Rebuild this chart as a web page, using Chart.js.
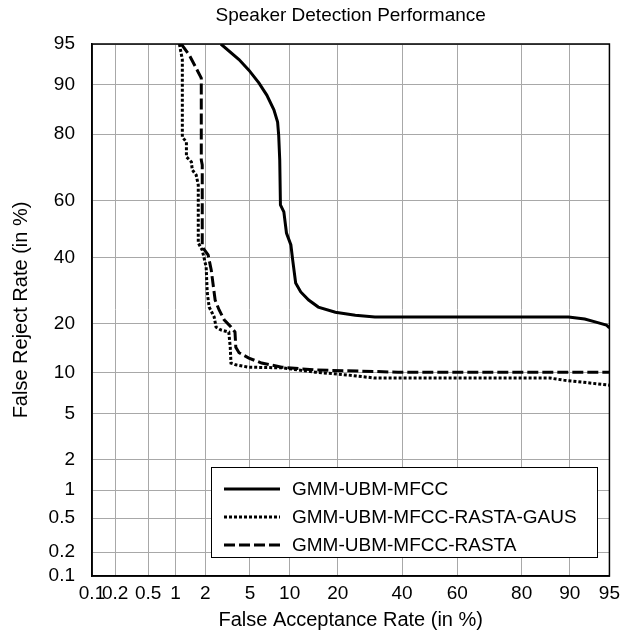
<!DOCTYPE html>
<html>
<head>
<meta charset="utf-8">
<title>Speaker Detection Performance</title>
<script src="https://cdn.jsdelivr.net/npm/chart.js@4.4.1/dist/chart.umd.min.js"></script>
<style>
  html, body { margin: 0; padding: 0; background: #fff; }
</style>
</head>
<body>
<canvas id="detChart" width="626" height="630"></canvas>
<script>
// tick labels (same on both axes, in %)
const tickValues = [0.1, 0.2, 0.5, 1, 2, 5, 10, 20, 40, 60, 80, 90, 95];

const seriesNames = ["GMM-UBM-MFCC", "GMM-UBM-MFCC-RASTA-GAUS", "GMM-UBM-MFCC-RASTA"];

// GMM-UBM-MFCC (solid)
const mfccFar = [2.8, 4.05, 4.9, 5.9, 6.8, 7.7, 8.2, 8.35, 8.5, 8.6, 9.1, 9.5, 10.2, 10.5, 11.0, 11.9, 13.4, 15.4, 19.4, 24.8, 30.8, 89.8, 92.2, 93.6, 94.7, 95];
const mfccFrr = [95, 93.4, 92.1, 90.3, 88.3, 85.5, 82.9, 79.8, 73, 58.4, 56, 48.5, 44.3, 39, 31.5, 28.7, 26.3, 24.3, 22.9, 22.1, 21.6, 21.6, 21.1, 20.3, 19.6, 18.9];

// GMM-UBM-MFCC-RASTA-GAUS (dotted)
const gausFar = [1.1, 1.18, 1.18, 1.3, 1.3, 1.46, 1.49, 1.63, 1.71, 1.71, 1.87, 2.04, 2.09, 2.18, 2.43, 2.53, 2.8, 3.3, 3.4, 3.45, 3.8, 4.9, 8.8, 14.8, 22.8, 30.8, 86.4, 89, 92, 95];
const gausFrr = [95, 93.4, 79.3, 78, 73.9, 72.4, 70, 68.4, 65.2, 45, 42.5, 36.7, 28.4, 24.3, 21.6, 19.1, 18.4, 17.9, 14.6, 11.6, 11.3, 10.9, 10.8, 10.1, 9.65, 9.2, 9.2, 8.9, 8.6, 8.2];

// GMM-UBM-MFCC-RASTA (dashed)
const rastaFar = [1.15, 1.39, 1.67, 1.83, 1.83, 1.87, 1.87, 2.13, 2.28, 2.48, 2.7, 3.0, 3.45, 3.74, 3.8, 4.05, 4.9, 6.2, 8.8, 14.8, 38.6, 95];
const rastaFrr = [95, 93.9, 92.1, 91, 73, 71.5, 43.6, 40.8, 35.7, 26.3, 23.5, 20.9, 19.1, 17.9, 14.6, 13.5, 12.5, 11.6, 10.9, 10.45, 10.1, 10.1];

// inverse normal CDF (Acklam)
function probit(p) {
    const a = [-3.969683028665376e+01, 2.209460984245205e+02, -2.759285104469687e+02, 1.383577518672690e+02, -3.066479806614716e+01, 2.506628277459239e+00];
    const b = [-5.447609879822406e+01, 1.615858368580409e+02, -1.556989798598866e+02, 6.680131188771972e+01, -1.328068155288572e+01];
    const c = [-7.784894002430293e-03, -3.223964580411365e-01, -2.400758277161838e+00, -2.549732539343734e+00, 4.374664141464968e+00, 2.938163982698783e+00];
    const d = [7.784695709041462e-03, 3.224671290700398e-01, 2.445134137142996e+00, 3.754408661907416e+00];
    const pl = 0.02425;
    let q, r;
    if (p < pl) {
        q = Math.sqrt(-2 * Math.log(p));
        return (((((c[0] * q + c[1]) * q + c[2]) * q + c[3]) * q + c[4]) * q + c[5]) / ((((d[0] * q + d[1]) * q + d[2]) * q + d[3]) * q + 1);
    }
    if (p <= 1 - pl) {
        q = p - 0.5;
        r = q * q;
        return (((((a[0] * r + a[1]) * r + a[2]) * r + a[3]) * r + a[4]) * r + a[5]) * q / (((((b[0] * r + b[1]) * r + b[2]) * r + b[3]) * r + b[4]) * r + 1);
    }
    q = Math.sqrt(-2 * Math.log(1 - p));
    return -(((((c[0] * q + c[1]) * q + c[2]) * q + c[3]) * q + c[4]) * q + c[5]) / ((((d[0] * q + d[1]) * q + d[2]) * q + d[3]) * q + 1);
}

// normal deviate scale used by DET plots
class ProbitScale extends Chart.Scale {
    determineDataLimits() {
        this.min = this.options.min;
        this.max = this.options.max;
    }
    buildTicks() {
        return tickValues.map(v => ({ value: v }));
    }
    getLabelForValue(v) {
        return String(v);
    }
    configure() {
        super.configure();
        this._zStart = probit(this.min / 100);
        this._zRange = probit(this.max / 100) - this._zStart;
    }
    getPixelForValue(v) {
        if (v === null || v === undefined || isNaN(v)) return NaN;
        return this.getPixelForDecimal((probit(v / 100) - this._zStart) / this._zRange);
    }
    getValueForPixel(px) {
        return this.getDecimalForPixel(px) * (this.max - this.min) + this.min;
    }
}
ProbitScale.id = "probit";
ProbitScale.defaults = {};
Chart.register(ProbitScale);

const toPoints = (xs, ys) => xs.map((x, i) => ({ x: x, y: ys[i] }));

const lineStyles = [
    { dash: [] },
    { dash: [3, 2] },
    { dash: [11, 4] }
];

const fontFamily = "'Liberation Sans', Arial, sans-serif";

const frameBox = {
    id: "frameBox",
    afterDatasetsDraw(chart) {
        const { ctx, chartArea: a } = chart;
        ctx.save();
        ctx.strokeStyle = "#000";
        ctx.lineWidth = 1.5;
        ctx.strokeRect(a.left, a.top, a.right - a.left, a.bottom - a.top);

        // legend box in the lower right
        const bx = 211, by = 467, bw = 386, bh = 90;
        ctx.fillStyle = "#fff";
        ctx.fillRect(bx, by, bw, bh);
        ctx.lineWidth = 1;
        ctx.strokeRect(bx + 0.5, by + 0.5, bw, bh);
        ctx.font = "19px " + fontFamily;
        ctx.textBaseline = "middle";
        ctx.fillStyle = "#000";
        seriesNames.forEach((name, i) => {
            const y = by + 22 + i * 28;
            ctx.beginPath();
            ctx.setLineDash(lineStyles[i].dash);
            ctx.lineWidth = 3;
            ctx.moveTo(bx + 13, y);
            ctx.lineTo(bx + 69, y);
            ctx.stroke();
            ctx.setLineDash([]);
            ctx.fillText(name, bx + 81, y + 1);
        });
        ctx.restore();
    }
};

const tickFont = { family: fontFamily, size: 19 };
const axisTitleFont = { family: fontFamily, size: 20, lineHeight: 1 };

new Chart(document.getElementById("detChart"), {
    type: "line",
    data: {
        datasets: [
            { label: seriesNames[0], data: toPoints(mfccFar, mfccFrr), borderDash: lineStyles[0].dash },
            { label: seriesNames[1], data: toPoints(gausFar, gausFrr), borderDash: lineStyles[1].dash },
            { label: seriesNames[2], data: toPoints(rastaFar, rastaFrr), borderDash: lineStyles[2].dash }
        ].map(ds => Object.assign(ds, {
            borderColor: "#000",
            backgroundColor: "#000",
            borderWidth: 3,
            pointRadius: 0,
            tension: 0,
            fill: false
        }))
    },
    options: {
        responsive: false,
        animation: false,
        events: [],
        layout: { padding: { left: 0, right: 13, top: 0, bottom: 0 } },
        plugins: {
            legend: { display: false },
            tooltip: { enabled: false },
            title: {
                display: true,
                fullSize: false,
                text: "Speaker Detection Performance",
                color: "#000",
                font: { family: fontFamily, size: 19, weight: "normal" },
                padding: { top: 4, bottom: 17.2 }
            }
        },
        scales: {
            x: {
                type: "probit",
                position: "bottom",
                min: 0.1,
                max: 95,
                grid: { color: "#a8a8a8", lineWidth: 1, drawTicks: false },
                border: { display: true, color: "#000", width: 1.5 },
                ticks: { color: "#000", font: tickFont, padding: 6, autoSkip: false, maxRotation: 0 },
                title: { display: true, text: "False Acceptance Rate (in %)", color: "#000", font: axisTitleFont, padding: { top: 0, bottom: 0 } },
                afterFit: s => { s.height = 54; }
            },
            y: {
                type: "probit",
                position: "left",
                min: 0.1,
                max: 95,
                grid: { color: "#a8a8a8", lineWidth: 1, drawTicks: false },
                border: { display: true, color: "#000", width: 1.5 },
                ticks: { color: "#000", font: tickFont, padding: 17, autoSkip: false },
                title: { display: true, text: "False Reject Rate (in %)", color: "#000", font: axisTitleFont, padding: { top: 11, bottom: 0 } },
                afterFit: s => { s.width = 92; }
            }
        }
    },
    plugins: [frameBox]
});
</script>
</body>
</html>
